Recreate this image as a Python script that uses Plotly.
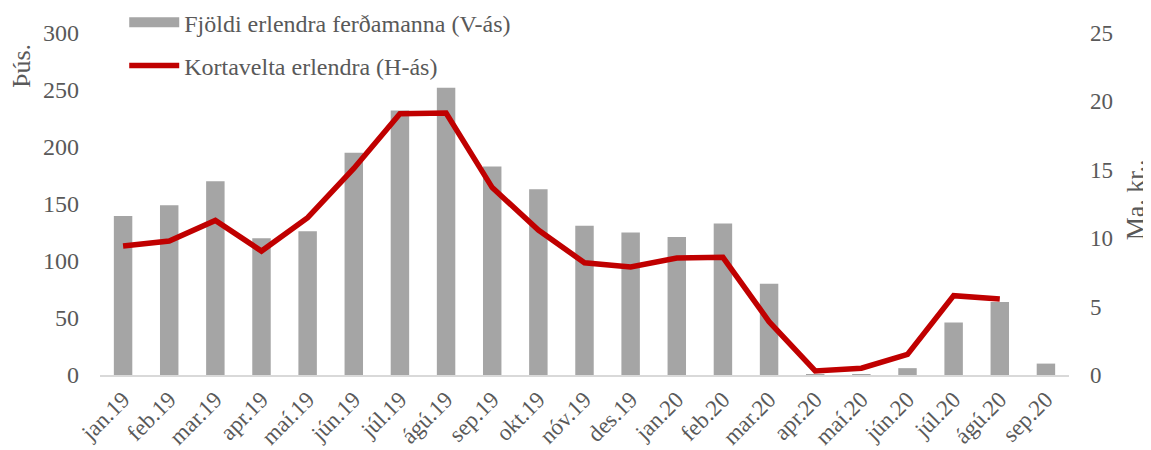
import plotly.graph_objects as go

categories = ["jan.19", "feb.19", "mar.19", "apr.19", "maí.19", "jún.19", "júl.19",
              "ágú.19", "sep.19", "okt.19", "nóv.19", "des.19", "jan.20", "feb.20",
              "mar.20", "apr.20", "maí.20", "jún.20", "júl.20", "ágú.20", "sep.20"]
visitors = [139.5, 149, 170, 120, 126, 195, 232, 252, 183, 163, 131, 125, 121, 133,
            80, 0.5, 0.5, 6, 46, 64, 10]
card_turnover = [9.43, 9.8, 11.3, 9.06, 11.5, 15.1, 19.1, 19.15, 13.7, 10.6, 8.2, 7.9,
                 8.55, 8.6, 3.9, 0.3, 0.5, 1.5, 5.8, 5.55, None]

FONT = "Times New Roman"
TXT = "#595959"
FS = 23

fig = go.Figure()
fig.add_trace(go.Bar(x=categories, y=visitors, name="Fjöldi erlendra ferðamanna (V-ás)",
                     marker=dict(color="#A5A5A5", line=dict(width=0)), yaxis="y",
                     showlegend=False, legendgroup="a"))
# legend entry for the bars (wide rectangle like the original)
fig.add_trace(go.Scatter(x=[None], y=[None], mode="lines", name="Fjöldi erlendra ferðamanna (V-ás)",
                         line=dict(color="#A5A5A5", width=13), yaxis="y", legendgroup="a"))
fig.add_trace(go.Scatter(x=categories, y=card_turnover, name="Kortavelta erlendra (H-ás)",
                         mode="lines", line=dict(color="#C00000", width=5.5), yaxis="y2",
                         connectgaps=False, legendgroup="b"))

fig.update_layout(
    width=1143, height=442,
    margin=dict(l=91.5, r=82.4, t=25, b=75, autoexpand=False),
    paper_bgcolor="white", plot_bgcolor="white",
    font=dict(family=FONT, size=FS, color=TXT),
    bargap=0.6,
    showlegend=True,
    legend=dict(x=0.025, y=1.096, xanchor="left", yanchor="top",
                font=dict(family=FONT, size=24, color=TXT),
                bgcolor="rgba(0,0,0,0)", itemwidth=50, tracegroupgap=9,
                traceorder="grouped"),
    xaxis=dict(type="category", tickangle=-45, showgrid=False, showline=True,
               linecolor="#D9D9D9", linewidth=2, ticks="", automargin=False,
               tickfont=dict(family=FONT, size=FS, color=TXT)),
    yaxis=dict(range=[0, 300], dtick=50, showgrid=False, zeroline=False, showline=False,
               ticks="", automargin=False, ticklabelstandoff=20,
               tickfont=dict(family=FONT, size=24, color=TXT)),
    yaxis2=dict(range=[0, 25], dtick=5, overlaying="y", side="right", showgrid=False,
                zeroline=False, showline=False, ticks="", automargin=False,
                ticklabelstandoff=20,
                tickfont=dict(family=FONT, size=FS, color=TXT)),
)
fig.add_annotation(text="Þús.", xref="paper", yref="paper", x=-0.0803, y=0.974,
                   xanchor="center", yanchor="top", textangle=-90, showarrow=False,
                   font=dict(family=FONT, size=26, color=TXT))
fig.add_annotation(text="Ma. kr..", xref="paper", yref="paper", x=1.0686, y=0.512,
                   xanchor="center", yanchor="middle", textangle=-90, showarrow=False,
                   font=dict(family=FONT, size=26, color=TXT))

fig.write_html("out.html")
